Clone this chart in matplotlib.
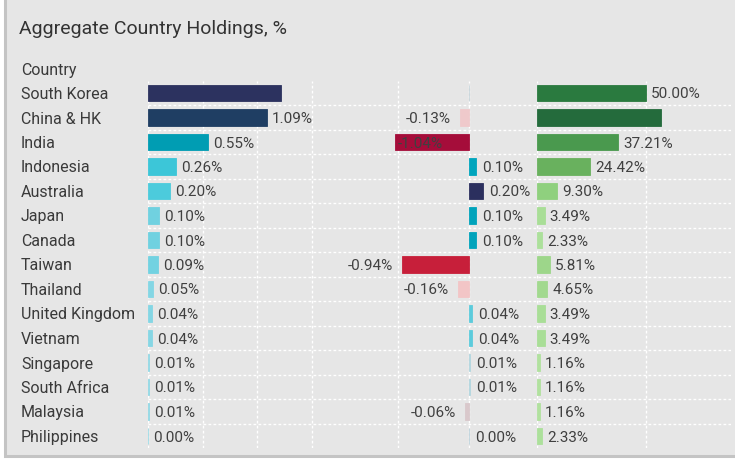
import matplotlib.pyplot as plt
from matplotlib.patches import Rectangle

plt.rcParams['font.family'] = ['Roboto', 'DejaVu Sans']

countries = ['South Korea', 'China & HK', 'India', 'Indonesia', 'Australia', 'Japan',
             'Canada', 'Taiwan', 'Thailand', 'United Kingdom', 'Vietnam', 'Singapore',
             'South Africa', 'Malaysia', 'Philippines']

# aggregate weight, %
holdings = [1.22, 1.09, 0.55, 0.26, 0.20, 0.10, 0.10, 0.09, 0.05, 0.04, 0.04, 0.01, 0.01, 0.01, 0.00]
# change in weight, %
change = [0.00, -0.13, -1.04, 0.10, 0.20, 0.10, 0.10, -0.94, -0.16, 0.04, 0.04, 0.01, 0.01, -0.06, 0.00]
# share of funds holding the country, %
funds_pct = [50.00, 56.98, 37.21, 24.42, 9.30, 3.49, 2.33, 5.81, 4.65, 3.49, 3.49, 1.16, 1.16, 1.16, 2.33]

holdings_colors = ['#2c325f', '#1f3e63', '#009db3', '#3cc6d8', '#4ccbdc', '#70d1e0', '#70d1e0',
                   '#72d2e1', '#84d6e4', '#84d6e4', '#86d6e4', '#93d9e5', '#93d9e5', '#93d9e5', '#9bdbe6']
change_colors = ['#c5d4da', '#efc9cb', '#a50d3a', '#00a5bd', '#2b2f5e', '#00a3bb', '#00a3bb',
                 '#c71f3a', '#f2c5c6', '#5ccbdc', '#5ccbdc', '#b2d6df', '#b2d6df', '#d9c8cb', '#bcd2dc']
funds_colors = ['#2a7a3f', '#246b3c', '#4a994e', '#69b15e', '#8fd07e', '#a9de97', '#ace09b',
                '#9dd68a', '#a2d98f', '#a9de97', '#a9de97', '#b1e19f', '#b1e19f', '#b1e19f', '#ace09b']

# rows whose value label is left off in each column
holdings_nolabel = {0}
change_nolabel = {0}
funds_nolabel = {1}

W, H = 735, 462
fig = plt.figure(figsize=(W / 100, H / 100), dpi=100)
fig.patch.set_facecolor('white')


def px_axes(x0, x1, y0, y1):
    ax = fig.add_axes([x0 / W, 1 - y1 / H, (x1 - x0) / W, (y1 - y0) / H])
    ax.set_facecolor('none')
    for s in ax.spines.values():
        s.set_visible(False)
    ax.set_xticks([])
    ax.set_yticks([])
    return ax


# card background
bg = px_axes(0, W, 0, H)
bg.set_xlim(0, W)
bg.set_ylim(H, 0)
bg.add_patch(Rectangle((5, -10), W + 10, 466, facecolor='#e6e6e6', edgecolor='#c4c4c4', lw=2.2))
bg.text(19, 27, 'Aggregate Country Holdings, %', fontsize=14, color='#333333',
        ha='left', va='center_baseline')
bg.text(21, 69.5, 'Country', fontsize=11.5, color='#3a3a3a', ha='left', va='center_baseline')

n = len(countries)
row_h = 24.5
top = 93 - row_h / 2
bottom = top + n * row_h
grid_kw = dict(color='white', lw=1.0, linestyle=(0, (2, 1.6)), zorder=0)

# horizontal row separators
gx = px_axes(148, 731, top, bottom)
gx.set_ylim(n - 0.5, -0.5)
for k in range(n - 1):
    gx.axhline(k + 0.5, **grid_kw)

ax1 = px_axes(148, 398, top, bottom)
ax1.set_xlim(0, 250 / 109)
ax2 = px_axes(330, 537, top, bottom)
ax2.set_xlim(-139 / 71, 68 / 71)
ax3 = px_axes(537, 735, top, bottom)
ax3.set_xlim(0, 198 / 2.18)
for ax in (ax1, ax2, ax3):
    ax.set_ylim(n - 0.5, -0.5)

for x in [0, 0.5, 1.0, 1.5]:
    ax1.axvline(x, **grid_kw)
for x in [-1.0, 0]:
    ax2.axvline(x, **grid_kw)
for x in [0, 50]:
    ax3.axvline(x, **grid_kw)

label_kw = dict(textcoords='offset pixels', fontsize=11, color='#404040',
                va='center_baseline')

rows = range(n)
ax1.barh(rows, holdings, height=0.67, color=holdings_colors, edgecolor=holdings_colors,
         lw=0.6, zorder=2)
for i, v in enumerate(holdings):
    if i not in holdings_nolabel:
        ax1.annotate(f'{v:.2f}%', xy=(v, i), xytext=(5, 0), ha='left', **label_kw)

ax2.barh(rows, change, height=0.67, color=change_colors, edgecolor=change_colors,
         lw=0.6, zorder=2)
for i, v in enumerate(change):
    if i in change_nolabel:
        continue
    if v < -1.0:
        # too long to fit on the left: label sits inside the bar
        ax2.annotate(f'{v:.2f}%', xy=(-1.0, i), xytext=(0, 0), ha='left', zorder=3, **label_kw)
    elif v < 0:
        ax2.annotate(f'{v:.2f}%', xy=(v, i), xytext=(-9, 0), ha='right', **label_kw)
    else:
        ax2.annotate(f'{v:.2f}%', xy=(v, i), xytext=(6, 0), ha='left', **label_kw)

ax3.barh(rows, funds_pct, height=0.67, color=funds_colors, edgecolor=funds_colors,
         lw=0.6, zorder=2)
for i, v in enumerate(funds_pct):
    if i not in funds_nolabel:
        ax3.annotate(f'{v:.2f}%', xy=(v, i), xytext=(5, 0), ha='left', **label_kw)

for i, name in enumerate(countries):
    ax1.annotate(name, xy=(21, i), xycoords=('figure pixels', 'data'), fontsize=11.5,
                 color='#3a3a3a', ha='left', va='center_baseline', annotation_clip=False)

fig.savefig('out.png', dpi=100)
